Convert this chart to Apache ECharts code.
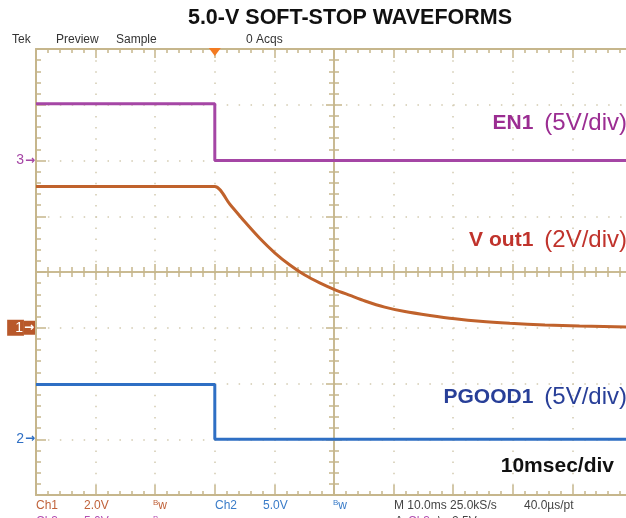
<!DOCTYPE html>
<html>
<head>
<meta charset="utf-8">
<script src="https://cdn.jsdelivr.net/npm/echarts@6/dist/echarts.min.js"></script>
<style>
  html, body { margin: 0; padding: 0; background: #ffffff; overflow: hidden; }
  #chart { width: 626px; height: 518px; }
</style>
</head>
<body>
<div id="chart"></div>
<script>
// Horizontal: 10 ms/div over 10 divisions, trigger placed 3 divisions from the left edge
const timeRangeMs = [-30, 70];

// EN1 and PGOOD1 both fall at the trigger instant
const stepTimesMs = [-30, 0, 0, 70];
const en1Volts = [5.1, 5.1, 0, 0];
const pgood1Volts = [4.9, 4.9, 0, 0];

// Vout1 soft-stop discharge
const vout1TimesMs = [-30, 0, 2.5, 5.0, 7.5, 10.1, 12.6, 15.1, 17.6, 20.1, 22.7, 25.2, 28.5, 31.9, 36.1, 40.3, 44.5, 49.5, 55.4, 61.2, 70];
const vout1Volts   = [5.07, 5.07, 4.44, 3.81, 3.22, 2.68, 2.25, 1.89, 1.61, 1.37, 1.16, 0.96, 0.74, 0.58, 0.44, 0.32, 0.23, 0.16, 0.10, 0.06, 0.02];

// Channel ground reference markers
const en1Marker = '3';
const vout1Marker = '1';
const pgood1Marker = '2';

// Trace labels
const traceLabels = [
  { name: 'EN1', scale: '(5V/div)' },
  { name: 'Vout1', scale: '(2V/div)' },
  { name: 'PGOOD1', scale: '(5V/div)' }
];
const timebaseLabel = '10msec/div';
const titleText = '5.0-V SOFT-STOP WAVEFORMS';
const headerTexts = ['Tek', 'Preview', 'Sample', '0 Acqs'];

const FONT = '"Liberation Sans", Arial, sans-serif';
const ARROW_FONT = '"DejaVu Sans", sans-serif';
const FRAME = '#c6b68c';
const DOT = '#d2cab0';
const EN1_COLOR = '#a546a5';
const VOUT_COLOR = '#c0622c';
const PGOOD_COLOR = '#2f6fc4';

const plotRect = { left: 36, top: 49, width: 596, height: 446 };
const gridOf = () => Object.assign({ containLabel: false, outerBoundsMode: 'none' }, plotRect);

const zip = (xs, ys) => xs.map((x, i) => [x, ys[i]]);

// graticule axis helper (in divisions)
function divAxis(gridIndex, min, max, extra) {
  return Object.assign({
    gridIndex, type: 'value', min, max, interval: 1,
    axisLabel: { show: false },
    splitLine: { show: false }
  }, extra);
}

const markerLabel = (marker, color, boxed) => ({
  show: true,
  margin: 1,
  formatter: v => (v === 0 ? (boxed ? '{box|' + marker + '}{boxa|→}' : '{n|' + marker + '}{a|→}') : ''),
  rich: {
    n: { fontFamily: FONT, fontSize: 14, color, padding: [0, 1, 0, 0], lineHeight: 16 },
    a: { fontFamily: ARROW_FONT, fontSize: 12, fontWeight: 'bold', color, lineHeight: 16 },
    box: { fontFamily: FONT, fontSize: 14, color: '#ffffff', backgroundColor: color, padding: [1, 1, 1, 8], lineHeight: 14 },
    boxa: { fontFamily: ARROW_FONT, fontSize: 12, fontWeight: 'bold', color: '#ffffff', backgroundColor: color, padding: [1, 1, 1, 0], lineHeight: 14 }
  }
});

const channelAxis = (min, max, interval, label) => ({
  gridIndex: 0, type: 'value', position: 'left', min, max, interval,
  axisLine: { show: false }, axisTick: { show: false }, splitLine: { show: false },
  axisLabel: label
});

const tickStyle = { color: FRAME, width: 1.5 };

const labelText = (x, y, name, scale, color, splitV) => ({
  type: 'text', x, y, z: 10,
  style: {
    text: (splitV ? '{v|V}{b|' + name.slice(1) + '}' : '{b|' + name + '}') + '{r|' + scale + '}',
    align: 'right', verticalAlign: 'middle',
    rich: {
      v: { font: 'bold 21px ' + FONT, fill: color, padding: [0, 6, 0, 0] },
      b: { font: 'bold 21px ' + FONT, fill: color, padding: [0, 11, 0, 0] },
      r: { font: '24px ' + FONT, fill: color }
    }
  }
});

const statusText = (x, y, text, color) => ({
  type: 'text', x, y, style: { text, font: '12px ' + FONT, fill: color, verticalAlign: 'middle' }
});
const bwText = (x, y, color) => ({
  type: 'text', x, y, style: {
    text: '{s|B}{w|w}', verticalAlign: 'middle',
    rich: { s: { font: '8px ' + FONT, fill: color, padding: [0, 0, 6, 0] }, w: { font: '12px ' + FONT, fill: color } }
  }
});

const option = {
  animation: false,
  backgroundColor: '#ffffff',
  grid: [gridOf(), gridOf(), gridOf(), gridOf(), gridOf()],
  xAxis: [
    // time axis for the traces
    { gridIndex: 0, type: 'value', min: timeRangeMs[0], max: timeRangeMs[1], show: false },
    // dotted graticule + centre line (ticks upward)
    divAxis(1, -5, 5, {
      axisLine: { onZero: true, lineStyle: tickStyle },
      axisTick: { inside: true, length: 8, lineStyle: tickStyle },
      minorTick: { show: true, splitNumber: 5, length: 5, lineStyle: tickStyle },
      splitLine: { show: true, lineStyle: { color: DOT, width: 1.5, type: [1.5, 9.65] } }
    }),
    // centre line ticks downward
    divAxis(2, -5, 5, {
      axisLine: { onZero: true, lineStyle: tickStyle },
      axisTick: { inside: false, length: 8, lineStyle: tickStyle },
      minorTick: { show: true, splitNumber: 5, length: 5, lineStyle: tickStyle }
    }),
    // top frame edge
    divAxis(3, -5, 5, {
      position: 'top',
      axisLine: { onZero: false, lineStyle: { color: FRAME, width: 2 } },
      axisTick: { inside: true, length: 9, lineStyle: tickStyle },
      minorTick: { show: true, splitNumber: 5, length: 4, lineStyle: tickStyle }
    }),
    // bottom frame edge
    divAxis(4, -5, 5, {
      position: 'bottom',
      axisLine: { onZero: false, lineStyle: { color: FRAME, width: 2 } },
      axisTick: { inside: true, length: 10, lineStyle: tickStyle },
      minorTick: { show: true, splitNumber: 5, length: 4, lineStyle: tickStyle }
    })
  ],
  yAxis: [
    // per-channel volt scales: EN1 5V/div, Vout1 2V/div, PGOOD1 5V/div
    channelAxis(-30, 10, 5, markerLabel(en1Marker, EN1_COLOR, false)),
    channelAxis(-6, 10, 2, markerLabel(vout1Marker, '#b8582a', true)),
    channelAxis(-5, 35, 5, markerLabel(pgood1Marker, PGOOD_COLOR, false)),
    // dotted graticule + centre line (ticks rightward)
    divAxis(1, -4, 4, {
      axisLine: { onZero: true, lineStyle: tickStyle },
      axisTick: { inside: true, length: 8, lineStyle: tickStyle },
      minorTick: { show: true, splitNumber: 5, length: 5, lineStyle: tickStyle },
      splitLine: { show: true, lineStyle: { color: DOT, width: 1.5, type: [1.5, 10.42] } }
    }),
    // centre line ticks leftward
    divAxis(2, -4, 4, {
      axisLine: { onZero: true, lineStyle: tickStyle },
      axisTick: { inside: false, length: 8, lineStyle: tickStyle },
      minorTick: { show: true, splitNumber: 5, length: 5, lineStyle: tickStyle }
    }),
    // left frame edge
    divAxis(3, -4, 4, {
      position: 'left',
      axisLine: { onZero: false, lineStyle: { color: FRAME, width: 2 } },
      axisTick: { inside: true, length: 10, lineStyle: tickStyle },
      minorTick: { show: true, splitNumber: 5, length: 5, lineStyle: tickStyle }
    }),
    divAxis(4, -4, 4, { position: 'right', show: false })
  ],
  series: [
    {
      name: 'EN1', type: 'line', xAxisIndex: 0, yAxisIndex: 0,
      data: zip(stepTimesMs, en1Volts), showSymbol: false, z: 5,
      lineStyle: { color: EN1_COLOR, width: 3 },
      markPoint: {
        silent: true,
        data: [{
          coord: [0, 10], symbol: 'triangle', symbolRotate: 180,
          symbolSize: [12, 8], symbolOffset: [0, 3],
          itemStyle: { color: '#f37b22' }, label: { show: false }
        }]
      }
    },
    {
      name: 'Vout1', type: 'line', xAxisIndex: 0, yAxisIndex: 1,
      data: zip(vout1TimesMs, vout1Volts), showSymbol: false, z: 5,
      smooth: 0.25,
      lineStyle: { color: VOUT_COLOR, width: 3 }
    },
    {
      name: 'PGOOD1', type: 'line', xAxisIndex: 0, yAxisIndex: 2,
      data: zip(stepTimesMs, pgood1Volts), showSymbol: false, z: 5,
      lineStyle: { color: PGOOD_COLOR, width: 3 }
    }
  ],
  graphic: [
    { type: 'text', x: 350, y: 18, style: { text: titleText, font: 'bold 21.5px ' + FONT, fill: '#111111', align: 'center', verticalAlign: 'middle' } },
    statusText(12, 40, headerTexts[0], '#333333'),
    statusText(56, 40, headerTexts[1], '#333333'),
    statusText(116, 40, headerTexts[2], '#333333'),
    statusText(246, 40, headerTexts[3], '#333333'),

    // trace labels on the right
    labelText(627, 123, traceLabels[0].name, traceLabels[0].scale, '#9b2d92', false),
    labelText(627, 240, traceLabels[1].name, traceLabels[1].scale, '#c0332c', true),
    labelText(627, 397, traceLabels[2].name, traceLabels[2].scale, '#283f98', false),
    { type: 'text', x: 614, y: 466, z: 10, style: { text: timebaseLabel, font: 'bold 21px ' + FONT, fill: '#111111', align: 'right', verticalAlign: 'middle' } },

    // status readout
    statusText(36, 506, 'Ch1', '#c0623a'),
    statusText(84, 506, '2.0V', '#c0623a'),
    bwText(153, 506, '#c0623a'),
    statusText(215, 506, 'Ch2', '#3a7cc8'),
    statusText(263, 506, '5.0V', '#3a7cc8'),
    bwText(333, 506, '#3a7cc8'),
    statusText(394, 506, 'M 10.0ms 25.0kS/s', '#444444'),
    statusText(524, 506, '40.0µs/pt', '#444444'),
    statusText(36, 522, 'Ch3', '#b24fb2'),
    statusText(84, 522, '5.0V', '#b24fb2'),
    bwText(153, 522, '#b24fb2'),
    statusText(395, 522, 'A', '#444444'),
    statusText(408, 522, 'Ch3', '#b24fb2'),
    statusText(438, 522, '\\', '#444444'),
    statusText(452, 522, '2.5V', '#444444')
  ]
};

const chart = echarts.init(document.getElementById('chart'), null, { renderer: 'canvas' });
chart.setOption(option);
</script>
</body>
</html>
